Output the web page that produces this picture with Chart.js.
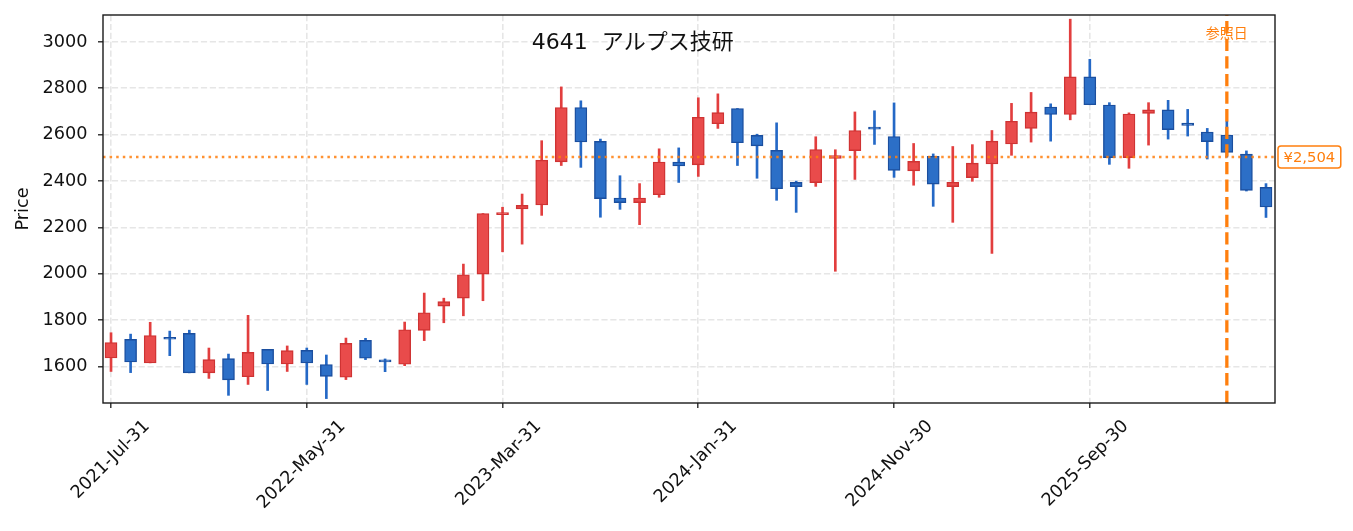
<!DOCTYPE html>
<html>
<head>
<meta charset="utf-8">
<script src="https://cdn.jsdelivr.net/npm/chart.js@4/dist/chart.umd.min.js"></script>
<style>
  html, body { margin: 0; padding: 0; background: #fff; }
  canvas { display: block; }
</style>
</head>
<body>
<canvas id="chart" width="1353" height="531"></canvas>
<script>
// 月末日付 (2021-07 ～ 2026-06)
const dates = [
  '2021-Jul-31','2021-Aug-31','2021-Sep-30','2021-Oct-31','2021-Nov-30','2021-Dec-31',
  '2022-Jan-31','2022-Feb-28','2022-Mar-31','2022-Apr-30','2022-May-31','2022-Jun-30',
  '2022-Jul-31','2022-Aug-31','2022-Sep-30','2022-Oct-31','2022-Nov-30','2022-Dec-31',
  '2023-Jan-31','2023-Feb-28','2023-Mar-31','2023-Apr-30','2023-May-31','2023-Jun-30',
  '2023-Jul-31','2023-Aug-31','2023-Sep-30','2023-Oct-31','2023-Nov-30','2023-Dec-31',
  '2024-Jan-31','2024-Feb-29','2024-Mar-31','2024-Apr-30','2024-May-31','2024-Jun-30',
  '2024-Jul-31','2024-Aug-31','2024-Sep-30','2024-Oct-31','2024-Nov-30','2024-Dec-31',
  '2025-Jan-31','2025-Feb-28','2025-Mar-31','2025-Apr-30','2025-May-31','2025-Jun-30',
  '2025-Jul-31','2025-Aug-31','2025-Sep-30','2025-Oct-31','2025-Nov-30','2025-Dec-31',
  '2026-Jan-31','2026-Feb-28','2026-Mar-31','2026-Apr-30','2026-May-31','2026-Jun-30'
];
const opens = [
  1637, 1717, 1616, 1722, 1743, 1573, 1634, 1556, 1674, 1611,
  1670, 1609, 1554, 1713, 1624, 1610, 1756, 1861, 1895, 1999,
  2255, 2280, 2297, 2483, 2717, 2571, 2327, 2307, 2341, 2482,
  2470, 2647, 2713, 2597, 2532, 2394, 2393, 2498, 2531, 2630,
  2592, 2444, 2507, 2376, 2415, 2474, 2560, 2627, 2719, 2687,
  2849, 2728, 2501, 2692, 2707, 2650, 2611, 2598, 2516, 2373
];
const highs = [
  1746, 1740, 1791, 1753, 1757, 1680, 1654, 1821, 1674, 1689,
  1680, 1650, 1723, 1722, 1633, 1792, 1917, 1895, 2042, 2260,
  2287, 2344, 2574, 2806, 2746, 2581, 2423, 2389, 2539, 2543,
  2759, 2776, 2713, 2602, 2651, 2400, 2591, 2535, 2698, 2703,
  2737, 2562, 2517, 2549, 2557, 2618, 2735, 2782, 2733, 3098,
  2925, 2738, 2694, 2738, 2748, 2709, 2627, 2658, 2530, 2389
];
const lows = [
  1579, 1574, 1616, 1647, 1573, 1549, 1476, 1523, 1497, 1579,
  1523, 1462, 1544, 1630, 1578, 1604, 1712, 1789, 1819, 1884,
  2095, 2128, 2252, 2467, 2459, 2244, 2278, 2212, 2330, 2394,
  2420, 2627, 2467, 2412, 2317, 2265, 2377, 2011, 2407, 2558,
  2416, 2382, 2291, 2222, 2399, 2088, 2511, 2568, 2572, 2664,
  2729, 2472, 2455, 2555, 2581, 2594, 2495, 2503, 2357, 2243
];
const closes = [
  1704, 1620, 1734, 1718, 1573, 1630, 1543, 1661, 1611, 1669,
  1616, 1558, 1700, 1636, 1620, 1759, 1832, 1880, 1996, 2260,
  2260, 2295, 2490, 2717, 2569, 2324, 2307, 2327, 2482, 2465,
  2675, 2695, 2565, 2552, 2367, 2376, 2536, 2510, 2618, 2624,
  2446, 2485, 2387, 2395, 2477, 2572, 2658, 2697, 2687, 2849,
  2729, 2501, 2689, 2707, 2622, 2640, 2570, 2524, 2360, 2288
];
const xTicks = [0, 10, 20, 30, 40, 50];
const yTicks = [1600, 1800, 2000, 2200, 2400, 2600, 2800, 3000];
const chartTitle = '4641  アルプス技研';
const refPrice = 2504;
const refIndex = 57;
const refLabel = '参照日';

const ORANGE = '#ff7f0e';
const FONT = '"DejaVu Sans", "Noto Sans CJK JP", sans-serif';
const TICK_SIZE = 17.7;

const isUp = i => closes[i] >= opens[i];
const wickData = dates.map((d, i) => ({ x: i, y: [lows[i], highs[i]] }));
const bodyData = dates.map((d, i) => ({ x: i, y: [opens[i], closes[i]] }));

Chart.defaults.font.family = FONT;
Chart.defaults.color = '#111';

// 参照線・タイトル・枠線
const overlay = {
  id: 'overlay',
  afterDatasetsDraw(chart) {
    const { ctx, chartArea: a, scales: { x, y } } = chart;
    ctx.save();
    ctx.beginPath();
    ctx.rect(a.left, a.top, a.width, a.height);
    ctx.clip();
    const py = y.getPixelForValue(refPrice);
    ctx.strokeStyle = ORANGE;
    ctx.globalAlpha = 0.85;
    ctx.lineWidth = 2.5;
    ctx.setLineDash([2.5, 4.1]);
    ctx.beginPath();
    ctx.moveTo(a.left, py);
    ctx.lineTo(a.right, py);
    ctx.stroke();
    ctx.globalAlpha = 1;
    const px = x.getPixelForValue(refIndex);
    ctx.lineWidth = 3.3;
    ctx.setLineDash([12.3, 5.3]);
    ctx.beginPath();
    ctx.moveTo(px, a.bottom);
    ctx.lineTo(px, a.top);
    ctx.stroke();
    ctx.setLineDash([]);
    ctx.fillStyle = ORANGE;
    ctx.font = '14px ' + FONT;
    ctx.textAlign = 'center';
    ctx.textBaseline = 'middle';
    ctx.fillText(refLabel, px, a.top + 19);
    ctx.fillStyle = '#111';
    ctx.font = '22px ' + FONT;
    ctx.textBaseline = 'alphabetic';
    ctx.fillText(chartTitle, a.left + a.width * 0.452, a.top + 33.5);
    ctx.restore();
  },
  afterDraw(chart) {
    const { ctx, chartArea: a, scales: { y } } = chart;
    ctx.save();
    ctx.strokeStyle = '#1a1a1a';
    ctx.lineWidth = 1.4;
    ctx.strokeRect(a.left, a.top, a.width, a.height);
    // 価格ラベル
    const py = y.getPixelForValue(refPrice);
    const txt = '¥' + refPrice.toLocaleString('en-US');
    ctx.font = '14.8px ' + FONT;
    const w = ctx.measureText(txt).width + 11;
    const h = 22;
    const bx = a.right + 3;
    ctx.beginPath();
    ctx.roundRect(bx, py - h / 2, w, h, 3);
    ctx.fillStyle = '#fff';
    ctx.fill();
    ctx.strokeStyle = ORANGE;
    ctx.lineWidth = 1.5;
    ctx.stroke();
    ctx.fillStyle = ORANGE;
    ctx.textAlign = 'left';
    ctx.textBaseline = 'middle';
    ctx.fillText(txt, bx + 5.5, py + 1);
    ctx.restore();
  }
};

new Chart(document.getElementById('chart'), {
  type: 'bar',
  data: {
    datasets: [{
      label: 'wick',
      data: wickData,
      order: 2,
      grouped: false,
      barThickness: 2,
      backgroundColor: dates.map((d, i) => isUp(i) ? '#e23e3e' : '#2468c6'),
      borderWidth: 0
    }, {
      label: 'body',
      data: bodyData,
      order: 1,
      grouped: false,
      barThickness: 12,
      minBarLength: 2,
      backgroundColor: dates.map((d, i) => isUp(i) ? '#e94b4b' : '#2c6fc7'),
      borderColor: dates.map((d, i) => isUp(i) ? '#cf3333' : '#1b4f9f'),
      borderWidth: 1.4,
      borderSkipped: false
    }]
  },
  options: {
    responsive: false,
    animation: false,
    layout: { padding: { left: 0, right: 78, top: 15, bottom: 0 } },
    plugins: { legend: { display: false }, tooltip: { enabled: false } },
    scales: {
      x: {
        type: 'linear',
        min: -0.41,
        max: 59.46,
        offset: false,
        afterFit: s => { s.height = 128; s.paddingLeft = 0; s.paddingRight = 0; },
        afterBuildTicks: s => { s.ticks = xTicks.map(v => ({ value: v })); },
        grid: {
          offset: false,
          color: '#e6e6e6',
          lineWidth: 1.6,
          tickLength: 5,
          tickColor: '#1a1a1a',
          tickWidth: 1.3,
          tickBorderDash: []
        },
        border: { display: false, dash: [6.2, 2.7] },
        ticks: {
          autoSkip: false,
          minRotation: 45,
          maxRotation: 45,
          padding: 8,
          labelOffset: 36,
          font: { size: TICK_SIZE },
          color: '#111',
          callback: v => dates[v]
        }
      },
      y: {
        min: 1443,
        max: 3116,
        beginAtZero: false,
        afterFit: s => { s.width = 103; s.paddingTop = 0; s.paddingBottom = 0; },
        afterBuildTicks: s => { s.ticks = yTicks.map(v => ({ value: v })); },
        grid: {
          color: '#e6e6e6',
          lineWidth: 1.6,
          tickLength: 5,
          tickColor: '#1a1a1a',
          tickWidth: 1.3,
          tickBorderDash: []
        },
        border: { display: false, dash: [6.2, 2.7] },
        ticks: {
          padding: 10.5,
          font: { size: TICK_SIZE },
          color: '#111',
          callback: v => String(v)
        },
        title: {
          display: true,
          text: 'Price',
          color: '#111',
          font: { size: TICK_SIZE },
          padding: { top: 12.5 }
        }
      }
    }
  },
  plugins: [overlay]
});
</script>
</body>
</html>
